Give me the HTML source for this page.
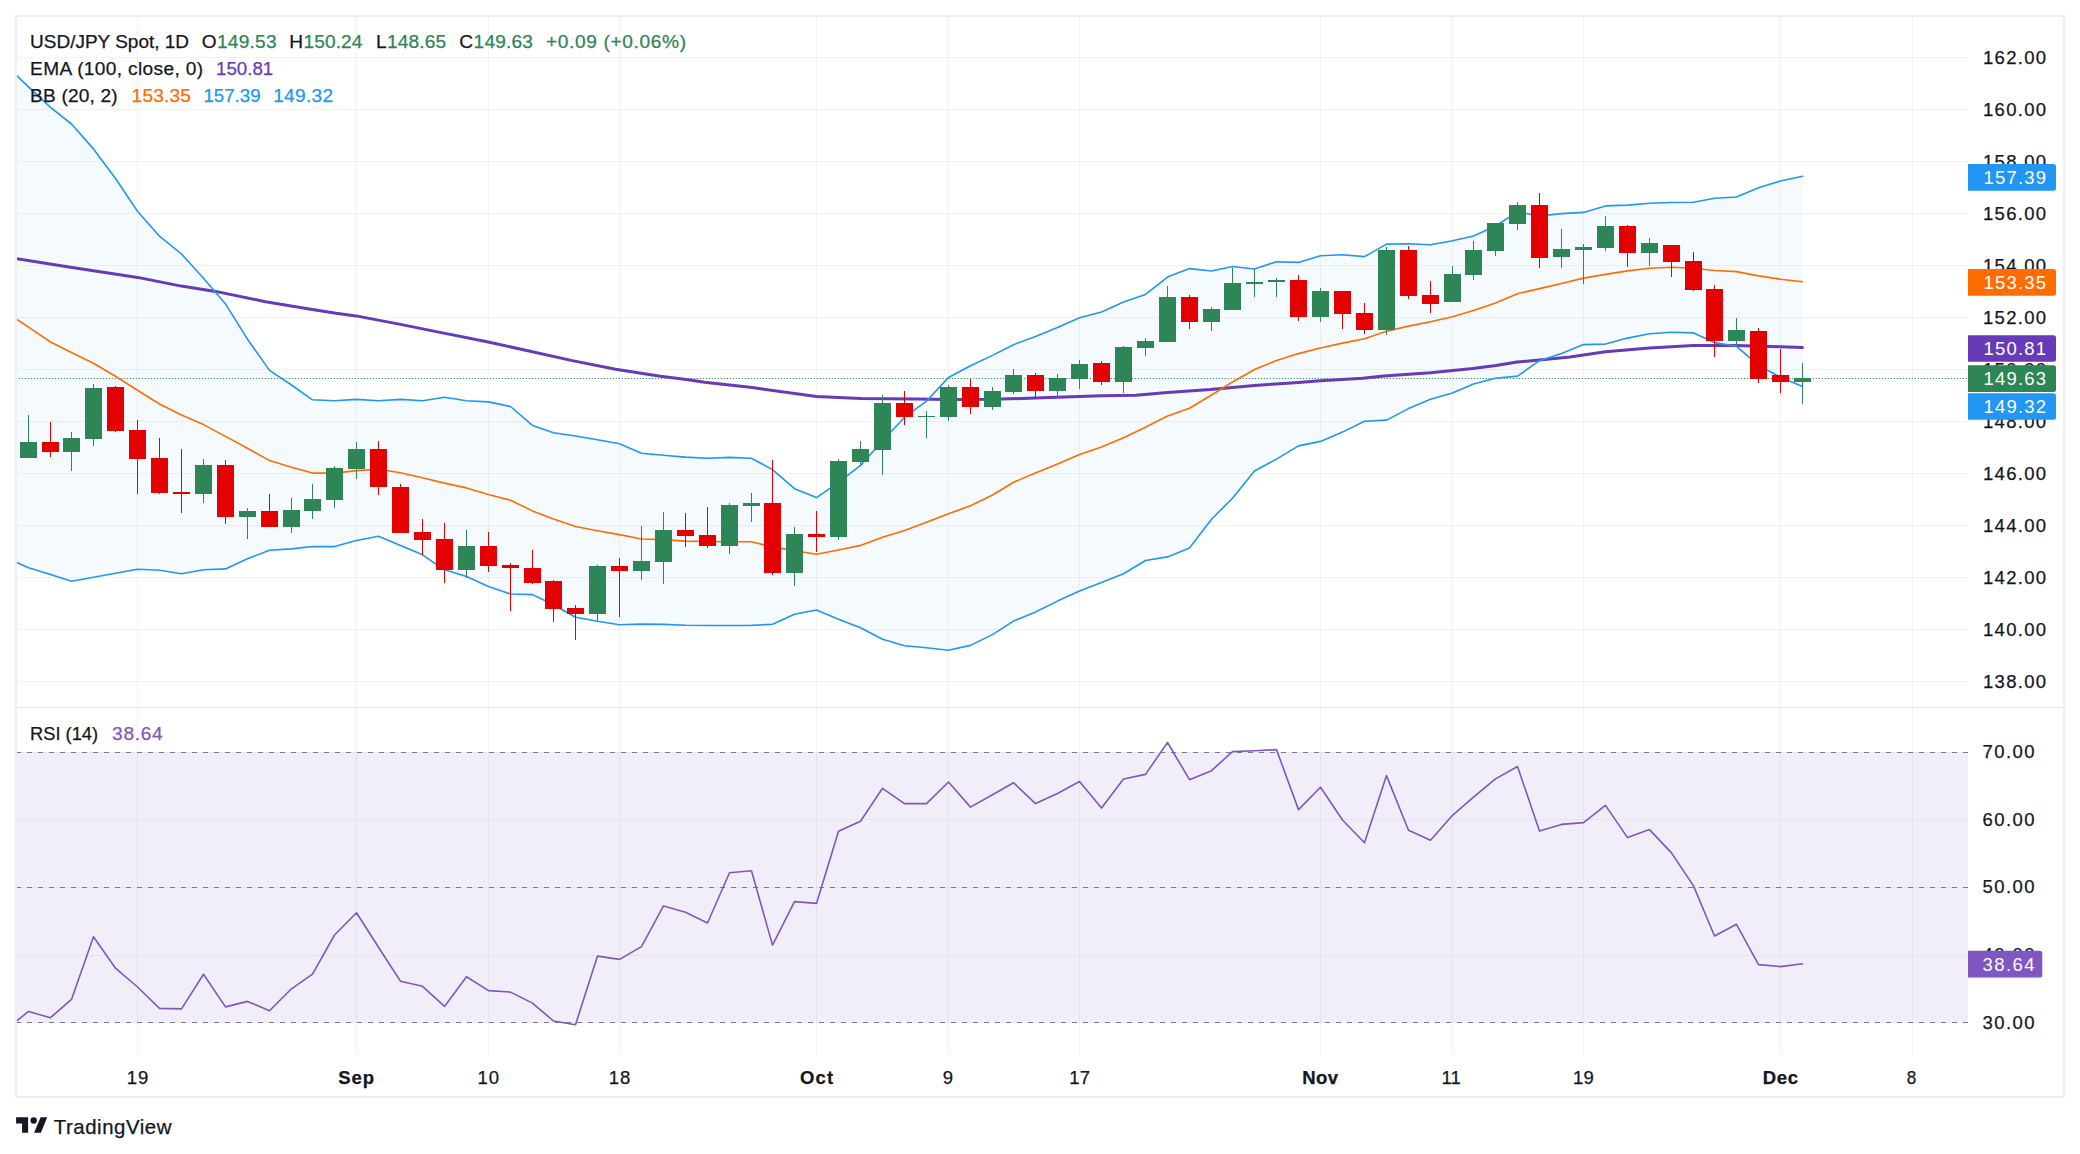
<!DOCTYPE html>
<html><head><meta charset="utf-8"><title>USD/JPY Spot chart</title>
<style>
html,body{margin:0;padding:0;background:#fff;}
body{width:2080px;height:1154px;overflow:hidden;}
svg{display:block;font-family:"Liberation Sans", Arial, sans-serif;}
</style></head>
<body>
<svg width="2080" height="1154" viewBox="0 0 2080 1154">
<rect x="0" y="0" width="2080" height="1154" fill="#ffffff"/>
<rect x="17" y="57" width="1951" height="1" fill="rgba(42,46,57,0.06)"/>
<rect x="17" y="109" width="1951" height="1" fill="rgba(42,46,57,0.06)"/>
<rect x="17" y="161" width="1951" height="1" fill="rgba(42,46,57,0.06)"/>
<rect x="17" y="213" width="1951" height="1" fill="rgba(42,46,57,0.06)"/>
<rect x="17" y="265" width="1951" height="1" fill="rgba(42,46,57,0.06)"/>
<rect x="17" y="317" width="1951" height="1" fill="rgba(42,46,57,0.06)"/>
<rect x="17" y="369" width="1951" height="1" fill="rgba(42,46,57,0.06)"/>
<rect x="17" y="421" width="1951" height="1" fill="rgba(42,46,57,0.06)"/>
<rect x="17" y="473" width="1951" height="1" fill="rgba(42,46,57,0.06)"/>
<rect x="17" y="525" width="1951" height="1" fill="rgba(42,46,57,0.06)"/>
<rect x="17" y="577" width="1951" height="1" fill="rgba(42,46,57,0.06)"/>
<rect x="17" y="629" width="1951" height="1" fill="rgba(42,46,57,0.06)"/>
<rect x="17" y="681" width="1951" height="1" fill="rgba(42,46,57,0.06)"/>
<rect x="17" y="752.1" width="1951" height="270.4" fill="#7e57c2" fill-opacity="0.1"/>
<rect x="17" y="752" width="1951" height="1" fill="rgba(42,46,57,0.06)" />
<rect x="17" y="819" width="1951" height="1" fill="rgba(42,46,57,0.06)" />
<rect x="17" y="887" width="1951" height="1" fill="rgba(42,46,57,0.06)" />
<rect x="17" y="955" width="1951" height="1" fill="rgba(42,46,57,0.06)" />
<rect x="17" y="1022" width="1951" height="1" fill="rgba(42,46,57,0.06)" />
<rect x="137" y="17" width="1" height="1037" fill="rgba(42,46,57,0.06)"/>
<rect x="356" y="17" width="1" height="1037" fill="rgba(42,46,57,0.06)"/>
<rect x="488" y="17" width="1" height="1037" fill="rgba(42,46,57,0.06)"/>
<rect x="619" y="17" width="1" height="1037" fill="rgba(42,46,57,0.06)"/>
<rect x="816" y="17" width="1" height="1037" fill="rgba(42,46,57,0.06)"/>
<rect x="948" y="17" width="1" height="1037" fill="rgba(42,46,57,0.06)"/>
<rect x="1079" y="17" width="1" height="1037" fill="rgba(42,46,57,0.06)"/>
<rect x="1320" y="17" width="1" height="1037" fill="rgba(42,46,57,0.06)"/>
<rect x="1452" y="17" width="1" height="1037" fill="rgba(42,46,57,0.06)"/>
<rect x="1583" y="17" width="1" height="1037" fill="rgba(42,46,57,0.06)"/>
<rect x="1780" y="17" width="1" height="1037" fill="rgba(42,46,57,0.06)"/>
<rect x="1912" y="17" width="1" height="1037" fill="rgba(42,46,57,0.06)"/>
<rect x="17" y="707" width="2046" height="1" fill="#e0e3eb"/>
<svg x="17" y="17" width="1951" height="690" viewBox="17 17 1951 690" overflow="hidden">
<polygon points="16,75 28.5,86.9 50.5,107.4 71.5,124 93.5,148.9 115.5,178.5 137.5,211.3 159.5,236.2 181.5,254 203.5,278.3 225.5,303.9 247.5,339.2 269.5,370.4 291.5,385 312.5,399.8 334.5,400.8 356.5,399.4 378.5,400.8 400.5,399.4 422.5,400.8 444.5,397.3 466.5,400.8 488.5,401.9 510.5,406.5 532.5,425.4 553.5,432.7 575.5,436 597.5,439.8 619.5,443.7 641.5,453.3 663.5,455.2 685.5,457.1 707.5,458.2 729.5,457.4 751.5,458.2 772.5,469.6 794.5,488.7 816.5,497.6 838.5,482.4 860.5,465.4 882.5,441 904.5,417.2 926.5,401.1 948.5,377.5 970.5,365.8 992.5,355.4 1013.5,344.7 1035.5,336.4 1057.5,327.6 1079.5,317.8 1101.5,312 1123.5,301.9 1145.5,294.4 1167.5,277.1 1189.5,268.6 1211.5,271 1232.5,266.5 1254.5,269 1276.5,261.7 1298.5,262.4 1320.5,255.8 1342.5,254.7 1364.5,256.6 1386.5,244.1 1408.5,243.8 1430.5,244.8 1452.5,240.7 1473.5,236 1495.5,226 1517.5,211.8 1539.5,216 1561.5,213.6 1583.5,212.4 1605.5,205.9 1627.5,205.1 1649.5,203.3 1671.5,202.5 1693.5,202.2 1714.5,198.3 1736.5,197 1758.5,187.7 1780.5,181 1802.5,176.2 1802.5,386.4 1780.5,377.3 1758.5,365.4 1736.5,346.3 1714.5,342.6 1693.5,332.9 1671.5,332.2 1649.5,333.7 1627.5,338.1 1605.5,344.1 1583.5,344.6 1561.5,353.5 1539.5,360.7 1517.5,376.1 1495.5,378.2 1473.5,383.9 1452.5,393 1430.5,399.3 1408.5,408.6 1386.5,420.1 1364.5,421.3 1342.5,432.1 1320.5,441.4 1298.5,445.9 1276.5,459.1 1254.5,471 1232.5,498.3 1211.5,519.2 1189.5,547.9 1167.5,556.9 1145.5,560.5 1123.5,573.8 1101.5,582.5 1079.5,591.1 1057.5,601.1 1035.5,612 1013.5,621.1 992.5,634.6 970.5,645.4 948.5,650.2 926.5,647.7 904.5,645.8 882.5,639.2 860.5,627.7 838.5,619.2 816.5,610 794.5,614.3 772.5,624.3 751.5,625.4 729.5,625.5 707.5,625.5 685.5,625.3 663.5,624.4 641.5,624.1 619.5,624.8 597.5,621.2 575.5,617.3 553.5,604.8 532.5,594.6 510.5,594 488.5,586.4 466.5,576.6 444.5,569.8 422.5,554.8 400.5,545.5 378.5,536.3 356.5,540.5 334.5,546.6 312.5,546.5 291.5,548.9 269.5,550.2 247.5,558.8 225.5,568.9 203.5,569.7 181.5,573.8 159.5,570.3 137.5,569.2 115.5,573.2 93.5,577.2 71.5,581.2 50.5,574.5 28.5,567.7 16,562.3" fill="#2196f3" fill-opacity="0.05"/>
<line x1="17" y1="378.5" x2="1968" y2="378.5" stroke="#2e8555" stroke-width="1.1" stroke-dasharray="1.1 1.9" stroke-dashoffset="1.2"/>
<polyline points="16,258.7 72.1,267.4 137.6,277.4 181.3,286.1 215.6,291.4 265.5,301.7 312.3,309.5 336,313.3 356,315.9 399.2,324.1 442.5,332.9 485.8,341.5 529,351 572.3,360.6 615.6,369.2 658.8,376.1 690,379.9 704.6,382.3 752.2,387.6 816.5,396.6 860.9,398.5 916,399.1 948.4,399.4 992.5,399.3 1035.5,398.1 1079.4,396.5 1101.5,395.8 1136,395.3 1167.4,392.5 1210.4,389.6 1254.5,385.4 1276,383.9 1298.4,382.5 1320.4,380.7 1362.7,378.2 1383.9,375.9 1430.4,372.7 1472.7,368.5 1496,365.5 1517.1,362.1 1539.3,360 1570,357.1 1605.4,351.7 1649.4,348 1693.4,345.4 1736.3,345.4 1780.5,346.7 1802.4,347.6" fill="none" stroke="#673ab7" stroke-width="3" stroke-linejoin="round" stroke-linecap="round"/>
<polyline points="16,75 28.5,86.9 50.5,107.4 71.5,124 93.5,148.9 115.5,178.5 137.5,211.3 159.5,236.2 181.5,254 203.5,278.3 225.5,303.9 247.5,339.2 269.5,370.4 291.5,385 312.5,399.8 334.5,400.8 356.5,399.4 378.5,400.8 400.5,399.4 422.5,400.8 444.5,397.3 466.5,400.8 488.5,401.9 510.5,406.5 532.5,425.4 553.5,432.7 575.5,436 597.5,439.8 619.5,443.7 641.5,453.3 663.5,455.2 685.5,457.1 707.5,458.2 729.5,457.4 751.5,458.2 772.5,469.6 794.5,488.7 816.5,497.6 838.5,482.4 860.5,465.4 882.5,441 904.5,417.2 926.5,401.1 948.5,377.5 970.5,365.8 992.5,355.4 1013.5,344.7 1035.5,336.4 1057.5,327.6 1079.5,317.8 1101.5,312 1123.5,301.9 1145.5,294.4 1167.5,277.1 1189.5,268.6 1211.5,271 1232.5,266.5 1254.5,269 1276.5,261.7 1298.5,262.4 1320.5,255.8 1342.5,254.7 1364.5,256.6 1386.5,244.1 1408.5,243.8 1430.5,244.8 1452.5,240.7 1473.5,236 1495.5,226 1517.5,211.8 1539.5,216 1561.5,213.6 1583.5,212.4 1605.5,205.9 1627.5,205.1 1649.5,203.3 1671.5,202.5 1693.5,202.2 1714.5,198.3 1736.5,197 1758.5,187.7 1780.5,181 1802.5,176.2" fill="none" stroke="#2196f3" stroke-width="1.6" stroke-linejoin="round" stroke-linecap="round"/>
<polyline points="16,562.3 28.5,567.7 50.5,574.5 71.5,581.2 93.5,577.2 115.5,573.2 137.5,569.2 159.5,570.3 181.5,573.8 203.5,569.7 225.5,568.9 247.5,558.8 269.5,550.2 291.5,548.9 312.5,546.5 334.5,546.6 356.5,540.5 378.5,536.3 400.5,545.5 422.5,554.8 444.5,569.8 466.5,576.6 488.5,586.4 510.5,594 532.5,594.6 553.5,604.8 575.5,617.3 597.5,621.2 619.5,624.8 641.5,624.1 663.5,624.4 685.5,625.3 707.5,625.5 729.5,625.5 751.5,625.4 772.5,624.3 794.5,614.3 816.5,610 838.5,619.2 860.5,627.7 882.5,639.2 904.5,645.8 926.5,647.7 948.5,650.2 970.5,645.4 992.5,634.6 1013.5,621.1 1035.5,612 1057.5,601.1 1079.5,591.1 1101.5,582.5 1123.5,573.8 1145.5,560.5 1167.5,556.9 1189.5,547.9 1211.5,519.2 1232.5,498.3 1254.5,471 1276.5,459.1 1298.5,445.9 1320.5,441.4 1342.5,432.1 1364.5,421.3 1386.5,420.1 1408.5,408.6 1430.5,399.3 1452.5,393 1473.5,383.9 1495.5,378.2 1517.5,376.1 1539.5,360.7 1561.5,353.5 1583.5,344.6 1605.5,344.1 1627.5,338.1 1649.5,333.7 1671.5,332.2 1693.5,332.9 1714.5,342.6 1736.5,346.3 1758.5,365.4 1780.5,377.3 1802.5,386.4" fill="none" stroke="#2196f3" stroke-width="1.6" stroke-linejoin="round" stroke-linecap="round"/>
<polyline points="16,318.9 28.5,327.1 50.5,342 71.5,352.5 93.5,363.2 115.5,376.3 137.5,390.2 159.5,404 181.5,415 203.5,424.6 225.5,436.4 247.5,448.2 269.5,460.6 291.5,467.3 312.5,473.1 334.5,473.1 356.5,470.6 378.5,469.3 400.5,472.8 422.5,477.7 444.5,483.1 466.5,487.9 488.5,494.4 510.5,500.3 532.5,510.9 553.5,519 575.5,526.5 597.5,530.7 619.5,534.6 641.5,539 663.5,539.6 685.5,541.1 707.5,541.5 729.5,541.8 751.5,541.8 772.5,546.9 794.5,550.8 816.5,554.2 838.5,550 860.5,545.4 882.5,537.2 904.5,530.5 926.5,522.3 948.5,513.8 970.5,505.8 992.5,495 1013.5,482.3 1035.5,473.1 1057.5,464.1 1079.5,454.4 1101.5,447.1 1123.5,437.7 1145.5,427.3 1167.5,416 1189.5,408.2 1211.5,395 1232.5,382 1254.5,369.5 1276.5,360.6 1298.5,353.6 1320.5,348 1342.5,343.1 1364.5,338.8 1386.5,331.3 1408.5,326.1 1430.5,321.7 1452.5,316.7 1473.5,310.4 1495.5,303 1517.5,293.7 1539.5,288.6 1561.5,283.5 1583.5,278.1 1605.5,274.4 1627.5,270.9 1649.5,268.3 1671.5,267.2 1693.5,268.3 1714.5,270.5 1736.5,271.6 1758.5,275.9 1780.5,279.2 1802.5,281.8" fill="none" stroke="#ff6d00" stroke-width="1.6" stroke-linejoin="round" stroke-linecap="round"/>
<rect x="28" y="415" width="1" height="43" fill="#2e8555"/>
<rect x="20" y="442" width="17" height="16" fill="#2e8555"/>
<rect x="50" y="422" width="1" height="35" fill="#e30000"/>
<rect x="42" y="442" width="17" height="10" fill="#e30000"/>
<rect x="71" y="432" width="1" height="39" fill="#2e8555"/>
<rect x="63" y="438" width="17" height="14" fill="#2e8555"/>
<rect x="93" y="384" width="1" height="62" fill="#2e8555"/>
<rect x="85" y="388" width="17" height="51" fill="#2e8555"/>
<rect x="115" y="386" width="1" height="46" fill="#e30000"/>
<rect x="107" y="387" width="17" height="44" fill="#e30000"/>
<rect x="137" y="420" width="1" height="74" fill="#e30000"/>
<rect x="129" y="430" width="17" height="29" fill="#e30000"/>
<rect x="159" y="438" width="1" height="56" fill="#e30000"/>
<rect x="151" y="458" width="17" height="35" fill="#e30000"/>
<rect x="181" y="449" width="1" height="64" fill="#e30000"/>
<rect x="173" y="492" width="17" height="2" fill="#e30000"/>
<rect x="203" y="459" width="1" height="44" fill="#2e8555"/>
<rect x="195" y="465" width="17" height="29" fill="#2e8555"/>
<rect x="225" y="460" width="1" height="64" fill="#e30000"/>
<rect x="217" y="465" width="17" height="52" fill="#e30000"/>
<rect x="247" y="508" width="1" height="31" fill="#2e8555"/>
<rect x="239" y="511" width="17" height="6" fill="#2e8555"/>
<rect x="269" y="494" width="1" height="33" fill="#e30000"/>
<rect x="261" y="511" width="17" height="16" fill="#e30000"/>
<rect x="291" y="498" width="1" height="35" fill="#2e8555"/>
<rect x="283" y="510" width="17" height="17" fill="#2e8555"/>
<rect x="312" y="484" width="1" height="35" fill="#2e8555"/>
<rect x="304" y="499" width="17" height="12" fill="#2e8555"/>
<rect x="334" y="466" width="1" height="42" fill="#2e8555"/>
<rect x="326" y="468" width="17" height="32" fill="#2e8555"/>
<rect x="356" y="442" width="1" height="37" fill="#2e8555"/>
<rect x="348" y="449" width="17" height="20" fill="#2e8555"/>
<rect x="378" y="441" width="1" height="54" fill="#e30000"/>
<rect x="370" y="449" width="17" height="38" fill="#e30000"/>
<rect x="400" y="484" width="1" height="49" fill="#e30000"/>
<rect x="392" y="487" width="17" height="46" fill="#e30000"/>
<rect x="422" y="519" width="1" height="36" fill="#e30000"/>
<rect x="414" y="532" width="17" height="8" fill="#e30000"/>
<rect x="444" y="523" width="1" height="60" fill="#e30000"/>
<rect x="436" y="539" width="17" height="31" fill="#e30000"/>
<rect x="466" y="530" width="1" height="48" fill="#2e8555"/>
<rect x="458" y="546" width="17" height="24" fill="#2e8555"/>
<rect x="488" y="532" width="1" height="40" fill="#e30000"/>
<rect x="480" y="546" width="17" height="20" fill="#e30000"/>
<rect x="510" y="563" width="1" height="48" fill="#e30000"/>
<rect x="502" y="565" width="17" height="3" fill="#e30000"/>
<rect x="532" y="550" width="1" height="34" fill="#e30000"/>
<rect x="524" y="568" width="17" height="15" fill="#e30000"/>
<rect x="553" y="580" width="1" height="42" fill="#e30000"/>
<rect x="545" y="581" width="17" height="28" fill="#e30000"/>
<rect x="575" y="605" width="1" height="35" fill="#e30000"/>
<rect x="567" y="608" width="17" height="6" fill="#e30000"/>
<rect x="597" y="565" width="1" height="56" fill="#2e8555"/>
<rect x="589" y="566" width="17" height="48" fill="#2e8555"/>
<rect x="619" y="558" width="1" height="59" fill="#e30000"/>
<rect x="611" y="566" width="17" height="5" fill="#e30000"/>
<rect x="641" y="526" width="1" height="54" fill="#2e8555"/>
<rect x="633" y="561" width="17" height="10" fill="#2e8555"/>
<rect x="663" y="512" width="1" height="72" fill="#2e8555"/>
<rect x="655" y="530" width="17" height="32" fill="#2e8555"/>
<rect x="685" y="513" width="1" height="34" fill="#e30000"/>
<rect x="677" y="530" width="17" height="6" fill="#e30000"/>
<rect x="707" y="507" width="1" height="41" fill="#e30000"/>
<rect x="699" y="535" width="17" height="11" fill="#e30000"/>
<rect x="729" y="503" width="1" height="51" fill="#2e8555"/>
<rect x="721" y="505" width="17" height="41" fill="#2e8555"/>
<rect x="751" y="493" width="1" height="29" fill="#2e8555"/>
<rect x="743" y="503" width="17" height="3" fill="#2e8555"/>
<rect x="772" y="460" width="1" height="115" fill="#e30000"/>
<rect x="764" y="503" width="17" height="70" fill="#e30000"/>
<rect x="794" y="527" width="1" height="59" fill="#2e8555"/>
<rect x="786" y="534" width="17" height="39" fill="#2e8555"/>
<rect x="816" y="511" width="1" height="41" fill="#e30000"/>
<rect x="808" y="534" width="17" height="3" fill="#e30000"/>
<rect x="838" y="459" width="1" height="81" fill="#2e8555"/>
<rect x="830" y="461" width="17" height="76" fill="#2e8555"/>
<rect x="860" y="441" width="1" height="25" fill="#2e8555"/>
<rect x="852" y="449" width="17" height="13" fill="#2e8555"/>
<rect x="882" y="395" width="1" height="80" fill="#2e8555"/>
<rect x="874" y="403" width="17" height="47" fill="#2e8555"/>
<rect x="904" y="391" width="1" height="34" fill="#e30000"/>
<rect x="896" y="403" width="17" height="14" fill="#e30000"/>
<rect x="926" y="411" width="1" height="27" fill="#2e8555"/>
<rect x="918" y="416" width="17" height="1" fill="#2e8555"/>
<rect x="948" y="385" width="1" height="36" fill="#2e8555"/>
<rect x="940" y="387" width="17" height="30" fill="#2e8555"/>
<rect x="970" y="379" width="1" height="35" fill="#e30000"/>
<rect x="962" y="387" width="17" height="20" fill="#e30000"/>
<rect x="992" y="387" width="1" height="23" fill="#2e8555"/>
<rect x="984" y="391" width="17" height="16" fill="#2e8555"/>
<rect x="1013" y="369" width="1" height="25" fill="#2e8555"/>
<rect x="1005" y="375" width="17" height="17" fill="#2e8555"/>
<rect x="1035" y="373" width="1" height="26" fill="#e30000"/>
<rect x="1027" y="375" width="17" height="16" fill="#e30000"/>
<rect x="1057" y="374" width="1" height="24" fill="#2e8555"/>
<rect x="1049" y="378" width="17" height="13" fill="#2e8555"/>
<rect x="1079" y="360" width="1" height="29" fill="#2e8555"/>
<rect x="1071" y="364" width="17" height="15" fill="#2e8555"/>
<rect x="1101" y="361" width="1" height="24" fill="#e30000"/>
<rect x="1093" y="363" width="17" height="19" fill="#e30000"/>
<rect x="1123" y="346" width="1" height="47" fill="#2e8555"/>
<rect x="1115" y="347" width="17" height="35" fill="#2e8555"/>
<rect x="1145" y="338" width="1" height="18" fill="#2e8555"/>
<rect x="1137" y="341" width="17" height="7" fill="#2e8555"/>
<rect x="1167" y="286" width="1" height="56" fill="#2e8555"/>
<rect x="1159" y="297" width="17" height="45" fill="#2e8555"/>
<rect x="1189" y="295" width="1" height="34" fill="#e30000"/>
<rect x="1181" y="297" width="17" height="25" fill="#e30000"/>
<rect x="1211" y="307" width="1" height="24" fill="#2e8555"/>
<rect x="1203" y="309" width="17" height="13" fill="#2e8555"/>
<rect x="1232" y="268" width="1" height="42" fill="#2e8555"/>
<rect x="1224" y="283" width="17" height="27" fill="#2e8555"/>
<rect x="1254" y="269" width="1" height="28" fill="#2e8555"/>
<rect x="1246" y="282" width="17" height="2" fill="#2e8555"/>
<rect x="1276" y="278" width="1" height="19" fill="#2e8555"/>
<rect x="1268" y="280" width="17" height="2" fill="#2e8555"/>
<rect x="1298" y="275" width="1" height="46" fill="#e30000"/>
<rect x="1290" y="280" width="17" height="37" fill="#e30000"/>
<rect x="1320" y="288" width="1" height="34" fill="#2e8555"/>
<rect x="1312" y="291" width="17" height="26" fill="#2e8555"/>
<rect x="1342" y="291" width="1" height="38" fill="#e30000"/>
<rect x="1334" y="291" width="17" height="23" fill="#e30000"/>
<rect x="1364" y="303" width="1" height="31" fill="#e30000"/>
<rect x="1356" y="313" width="17" height="17" fill="#e30000"/>
<rect x="1386" y="247" width="1" height="88" fill="#2e8555"/>
<rect x="1378" y="250" width="17" height="80" fill="#2e8555"/>
<rect x="1408" y="246" width="1" height="53" fill="#e30000"/>
<rect x="1400" y="250" width="17" height="46" fill="#e30000"/>
<rect x="1430" y="281" width="1" height="32" fill="#e30000"/>
<rect x="1422" y="295" width="17" height="9" fill="#e30000"/>
<rect x="1452" y="266" width="1" height="36" fill="#2e8555"/>
<rect x="1444" y="274" width="17" height="28" fill="#2e8555"/>
<rect x="1473" y="241" width="1" height="39" fill="#2e8555"/>
<rect x="1465" y="250" width="17" height="25" fill="#2e8555"/>
<rect x="1495" y="223" width="1" height="33" fill="#2e8555"/>
<rect x="1487" y="223" width="17" height="28" fill="#2e8555"/>
<rect x="1517" y="202" width="1" height="28" fill="#2e8555"/>
<rect x="1509" y="205" width="17" height="19" fill="#2e8555"/>
<rect x="1539" y="193" width="1" height="75" fill="#e30000"/>
<rect x="1531" y="205" width="17" height="53" fill="#e30000"/>
<rect x="1561" y="229" width="1" height="39" fill="#2e8555"/>
<rect x="1553" y="249" width="17" height="8" fill="#2e8555"/>
<rect x="1583" y="244" width="1" height="40" fill="#2e8555"/>
<rect x="1575" y="247" width="17" height="3" fill="#2e8555"/>
<rect x="1605" y="216" width="1" height="35" fill="#2e8555"/>
<rect x="1597" y="226" width="17" height="22" fill="#2e8555"/>
<rect x="1627" y="225" width="1" height="42" fill="#e30000"/>
<rect x="1619" y="226" width="17" height="27" fill="#e30000"/>
<rect x="1649" y="238" width="1" height="28" fill="#2e8555"/>
<rect x="1641" y="243" width="17" height="10" fill="#2e8555"/>
<rect x="1671" y="245" width="1" height="32" fill="#e30000"/>
<rect x="1663" y="245" width="17" height="17" fill="#e30000"/>
<rect x="1693" y="252" width="1" height="39" fill="#e30000"/>
<rect x="1685" y="261" width="17" height="29" fill="#e30000"/>
<rect x="1714" y="285" width="1" height="72" fill="#e30000"/>
<rect x="1706" y="289" width="17" height="52" fill="#e30000"/>
<rect x="1736" y="318" width="1" height="28" fill="#2e8555"/>
<rect x="1728" y="330" width="17" height="11" fill="#2e8555"/>
<rect x="1758" y="328" width="1" height="55" fill="#e30000"/>
<rect x="1750" y="331" width="17" height="48" fill="#e30000"/>
<rect x="1780" y="349" width="1" height="44" fill="#e30000"/>
<rect x="1772" y="375" width="17" height="7" fill="#e30000"/>
<rect x="1802" y="363" width="1" height="41" fill="#2e8555"/>
<rect x="1794" y="378" width="17" height="4" fill="#2e8555"/>
</svg>
<svg x="17" y="708" width="1951" height="346" viewBox="17 708 1951 346" overflow="hidden">
<line x1="16" y1="752.5" x2="1968" y2="752.5" stroke="#787b86" stroke-width="1" stroke-dasharray="5 6"/>
<line x1="16" y1="887.5" x2="1968" y2="887.5" stroke="#787b86" stroke-width="1" stroke-dasharray="5 6"/>
<line x1="16" y1="1022.5" x2="1968" y2="1022.5" stroke="#787b86" stroke-width="1" stroke-dasharray="5 6"/>
<polyline points="16,1021.5 28.5,1011.4 50.5,1017.7 71.5,999.4 93.5,936.8 115.5,968.2 137.5,987 159.5,1008.4 181.5,1008.9 203.5,974.2 225.5,1006.9 247.5,1001.4 269.5,1010.7 291.5,988.8 312.5,974.2 334.5,935 356.5,912.7 378.5,947.3 400.5,981.3 422.5,986.3 444.5,1006.4 466.5,976.7 488.5,990.6 510.5,992.1 532.5,1003.1 553.5,1021 575.5,1024.7 597.5,956.1 619.5,959.4 641.5,946.6 663.5,905.9 685.5,912.2 707.5,923 729.5,872.7 751.5,870.7 772.5,945.1 794.5,901.6 816.5,903.4 838.5,831.2 860.5,821.2 882.5,788.3 904.5,803.6 926.5,803.6 948.5,782 970.5,807.1 992.5,794.8 1013.5,782.7 1035.5,803.6 1057.5,793.5 1079.5,781.5 1101.5,808.1 1123.5,779 1145.5,774.4 1167.5,742.5 1189.5,779.7 1211.5,770.7 1232.5,751.6 1254.5,750.8 1276.5,749.6 1298.5,809.6 1320.5,787.2 1342.5,820 1364.5,842.8 1386.5,775.6 1408.5,830.3 1430.5,840.2 1452.5,815.3 1473.5,797.1 1495.5,778.9 1517.5,766.5 1539.5,830.9 1561.5,824.4 1583.5,822.6 1605.5,805.4 1627.5,837.6 1649.5,829.6 1671.5,852.9 1693.5,885.9 1714.5,936 1736.5,924.3 1758.5,964.6 1780.5,966.6 1802.5,963.8" fill="none" stroke="#7e57c2" stroke-width="1.6" stroke-linejoin="round" stroke-linecap="round"/>
</svg>
<rect x="16" y="16" width="2048" height="1081" fill="none" stroke="#eceff3" stroke-width="2"/>
<text x="1983" y="63.5" font-size="18.5" fill="#131722" stroke="#131722" stroke-width="0.25" textLength="63" lengthAdjust="spacing">162.00</text>
<text x="1983" y="115.5" font-size="18.5" fill="#131722" stroke="#131722" stroke-width="0.25" textLength="63" lengthAdjust="spacing">160.00</text>
<text x="1983" y="167.5" font-size="18.5" fill="#131722" stroke="#131722" stroke-width="0.25" textLength="63" lengthAdjust="spacing">158.00</text>
<text x="1983" y="219.5" font-size="18.5" fill="#131722" stroke="#131722" stroke-width="0.25" textLength="63" lengthAdjust="spacing">156.00</text>
<text x="1983" y="271.5" font-size="18.5" fill="#131722" stroke="#131722" stroke-width="0.25" textLength="63" lengthAdjust="spacing">154.00</text>
<text x="1983" y="323.5" font-size="18.5" fill="#131722" stroke="#131722" stroke-width="0.25" textLength="63" lengthAdjust="spacing">152.00</text>
<text x="1983" y="375.5" font-size="18.5" fill="#131722" stroke="#131722" stroke-width="0.25" textLength="63" lengthAdjust="spacing">150.00</text>
<text x="1983" y="427.5" font-size="18.5" fill="#131722" stroke="#131722" stroke-width="0.25" textLength="63" lengthAdjust="spacing">148.00</text>
<text x="1983" y="479.5" font-size="18.5" fill="#131722" stroke="#131722" stroke-width="0.25" textLength="63" lengthAdjust="spacing">146.00</text>
<text x="1983" y="531.5" font-size="18.5" fill="#131722" stroke="#131722" stroke-width="0.25" textLength="63" lengthAdjust="spacing">144.00</text>
<text x="1983" y="583.5" font-size="18.5" fill="#131722" stroke="#131722" stroke-width="0.25" textLength="63" lengthAdjust="spacing">142.00</text>
<text x="1983" y="635.5" font-size="18.5" fill="#131722" stroke="#131722" stroke-width="0.25" textLength="63" lengthAdjust="spacing">140.00</text>
<text x="1983" y="687.5" font-size="18.5" fill="#131722" stroke="#131722" stroke-width="0.25" textLength="63" lengthAdjust="spacing">138.00</text>
<text x="1982.5" y="758.2" font-size="18.5" fill="#131722" stroke="#131722" stroke-width="0.25" textLength="52" lengthAdjust="spacing">70.00</text>
<text x="1982.5" y="825.8" font-size="18.5" fill="#131722" stroke="#131722" stroke-width="0.25" textLength="52" lengthAdjust="spacing">60.00</text>
<text x="1982.5" y="893.4" font-size="18.5" fill="#131722" stroke="#131722" stroke-width="0.25" textLength="52" lengthAdjust="spacing">50.00</text>
<text x="1982.5" y="961" font-size="18.5" fill="#131722" stroke="#131722" stroke-width="0.25" textLength="52" lengthAdjust="spacing">40.00</text>
<text x="1982.5" y="1028.6" font-size="18.5" fill="#131722" stroke="#131722" stroke-width="0.25" textLength="52" lengthAdjust="spacing">30.00</text>
<path d="M1968,164.1 H2053.5 a2.5,2.5 0 0 1 2.5,2.5 V188.2 a2.5,2.5 0 0 1 -2.5,2.5 H1968 Z" fill="#2196f3"/>
<text x="1983.5" y="183.6" font-size="18.5" fill="#ffffff" textLength="62.6" lengthAdjust="spacing">157.39</text>
<path d="M1968,269.1 H2053.5 a2.5,2.5 0 0 1 2.5,2.5 V293.2 a2.5,2.5 0 0 1 -2.5,2.5 H1968 Z" fill="#ff6d00"/>
<text x="1983.5" y="288.6" font-size="18.5" fill="#ffffff" textLength="62.6" lengthAdjust="spacing">153.35</text>
<path d="M1968,335.2 H2053.5 a2.5,2.5 0 0 1 2.5,2.5 V359.3 a2.5,2.5 0 0 1 -2.5,2.5 H1968 Z" fill="#673ab7"/>
<text x="1983.5" y="354.7" font-size="18.5" fill="#ffffff" textLength="62.6" lengthAdjust="spacing">150.81</text>
<path d="M1968,365.3 H2053.5 a2.5,2.5 0 0 1 2.5,2.5 V389.4 a2.5,2.5 0 0 1 -2.5,2.5 H1968 Z" fill="#2e8555"/>
<text x="1983.5" y="384.8" font-size="18.5" fill="#ffffff" textLength="62.6" lengthAdjust="spacing">149.63</text>
<path d="M1968,393.2 H2053.5 a2.5,2.5 0 0 1 2.5,2.5 V417.3 a2.5,2.5 0 0 1 -2.5,2.5 H1968 Z" fill="#2196f3"/>
<text x="1983.5" y="412.7" font-size="18.5" fill="#ffffff" textLength="62.6" lengthAdjust="spacing">149.32</text>
<path d="M1968,950.8 H2039.8 a2.5,2.5 0 0 1 2.5,2.5 V974.9 a2.5,2.5 0 0 1 -2.5,2.5 H1968 Z" fill="#7e57c2"/>
<text x="1982.5" y="970.7" font-size="18.5" fill="#ffffff" textLength="52" lengthAdjust="spacing">38.64</text>
<text x="137.6" y="1084" font-size="18.5" fill="#131722" stroke="#131722" stroke-width="0.25" text-anchor="middle" textLength="21.6" lengthAdjust="spacing">19</text>
<text x="356.2" y="1084" font-size="18.5" fill="#131722" stroke="#131722" stroke-width="0.25" text-anchor="middle" font-weight="bold" textLength="35.8" lengthAdjust="spacing">Sep</text>
<text x="488.2" y="1084" font-size="18.5" fill="#131722" stroke="#131722" stroke-width="0.25" text-anchor="middle" textLength="21.6" lengthAdjust="spacing">10</text>
<text x="619.6" y="1084" font-size="18.5" fill="#131722" stroke="#131722" stroke-width="0.25" text-anchor="middle" textLength="21.6" lengthAdjust="spacing">18</text>
<text x="816.5" y="1084" font-size="18.5" fill="#131722" stroke="#131722" stroke-width="0.25" text-anchor="middle" font-weight="bold" textLength="33.1" lengthAdjust="spacing">Oct</text>
<text x="948" y="1084" font-size="18.5" fill="#131722" stroke="#131722" stroke-width="0.25" text-anchor="middle" textLength="10.3" lengthAdjust="spacing">9</text>
<text x="1079.6" y="1084" font-size="18.5" fill="#131722" stroke="#131722" stroke-width="0.25" text-anchor="middle" textLength="20.8" lengthAdjust="spacing">17</text>
<text x="1320.1" y="1084" font-size="18.5" fill="#131722" stroke="#131722" stroke-width="0.25" text-anchor="middle" font-weight="bold" textLength="35.7" lengthAdjust="spacing">Nov</text>
<text x="1451.1" y="1084" font-size="18.5" fill="#131722" stroke="#131722" stroke-width="0.25" text-anchor="middle" textLength="19.3" lengthAdjust="spacing">11</text>
<text x="1583.4" y="1084" font-size="18.5" fill="#131722" stroke="#131722" stroke-width="0.25" text-anchor="middle" textLength="20.8" lengthAdjust="spacing">19</text>
<text x="1780.4" y="1084" font-size="18.5" fill="#131722" stroke="#131722" stroke-width="0.25" text-anchor="middle" font-weight="bold" textLength="35.2" lengthAdjust="spacing">Dec</text>
<text x="1911.4" y="1084" font-size="18.5" fill="#131722" stroke="#131722" stroke-width="0.25" text-anchor="middle" textLength="9.5" lengthAdjust="spacingAndGlyphs">8</text>
<text x="30.1" y="47.7" font-size="19.1" fill="#131722" stroke="#131722" stroke-width="0.25" textLength="159" lengthAdjust="spacingAndGlyphs">USD/JPY Spot, 1D</text>
<text x="201.7" y="47.7" font-size="19.1" fill="#131722" stroke="#131722" stroke-width="0.25">O</text>
<text x="216.9" y="47.7" font-size="19.1" fill="#2e8555" stroke="#2e8555" stroke-width="0.25" textLength="59.7" lengthAdjust="spacing">149.53</text>
<text x="289.2" y="47.7" font-size="19.1" fill="#131722" stroke="#131722" stroke-width="0.25">H</text>
<text x="303.5" y="47.7" font-size="19.1" fill="#2e8555" stroke="#2e8555" stroke-width="0.25" textLength="58.9" lengthAdjust="spacing">150.24</text>
<text x="376" y="47.7" font-size="19.1" fill="#131722" stroke="#131722" stroke-width="0.25">L</text>
<text x="386.9" y="47.7" font-size="19.1" fill="#2e8555" stroke="#2e8555" stroke-width="0.25" textLength="59.3" lengthAdjust="spacing">148.65</text>
<text x="459.3" y="47.7" font-size="19.1" fill="#131722" stroke="#131722" stroke-width="0.25">C</text>
<text x="473.6" y="47.7" font-size="19.1" fill="#2e8555" stroke="#2e8555" stroke-width="0.25" textLength="59.2" lengthAdjust="spacing">149.63</text>
<text x="545.9" y="47.7" font-size="19.1" fill="#2e8555" stroke="#2e8555" stroke-width="0.25" textLength="140.2" lengthAdjust="spacing">+0.09 (+0.06%)</text>
<text x="30.1" y="75" font-size="19.1" fill="#131722" stroke="#131722" stroke-width="0.25" textLength="173" lengthAdjust="spacing">EMA (100, close, 0)</text>
<text x="216" y="75" font-size="19.1" fill="#673ab7" stroke="#673ab7" stroke-width="0.25" textLength="57.2" lengthAdjust="spacingAndGlyphs">150.81</text>
<text x="30.1" y="101.9" font-size="19.1" fill="#131722" stroke="#131722" stroke-width="0.25" textLength="87.5" lengthAdjust="spacing">BB (20, 2)</text>
<text x="131.6" y="101.9" font-size="19.1" fill="#ff6d00" stroke="#ff6d00" stroke-width="0.25" textLength="59.2" lengthAdjust="spacing">153.35</text>
<text x="203.4" y="101.9" font-size="19.1" fill="#2196f3" stroke="#2196f3" stroke-width="0.25" textLength="57.2" lengthAdjust="spacingAndGlyphs">157.39</text>
<text x="273.2" y="101.9" font-size="19.1" fill="#2196f3" stroke="#2196f3" stroke-width="0.25" textLength="59.8" lengthAdjust="spacing">149.32</text>
<text x="30" y="740" font-size="19.1" fill="#131722" stroke="#131722" stroke-width="0.25" textLength="68.1" lengthAdjust="spacingAndGlyphs">RSI (14)</text>
<text x="112.1" y="740" font-size="19.1" fill="#7e57c2" stroke="#7e57c2" stroke-width="0.25" textLength="50.6" lengthAdjust="spacing">38.64</text>
<path d="M16.1,1117.3 H28.1 V1132.8 H22.1 V1123.4 H16.1 Z" fill="#131722"/>
<circle cx="33.7" cy="1120.5" r="3.2" fill="#131722"/>
<path d="M40.6,1117.3 H47.2 L40.9,1132.8 H34.1 Z" fill="#131722"/>
<text x="53.7" y="1133.8" font-size="20.4" fill="#131722" stroke="#131722" stroke-width="0.25" textLength="117.7" lengthAdjust="spacing">TradingView</text>
</svg>
</body></html>
